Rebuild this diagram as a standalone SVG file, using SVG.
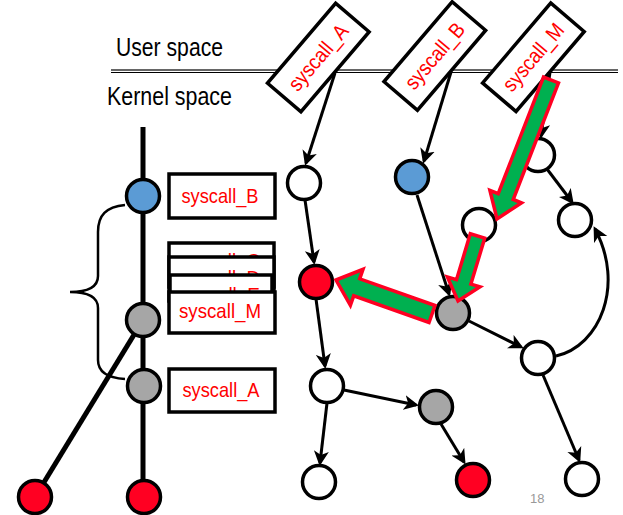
<svg xmlns="http://www.w3.org/2000/svg" width="623" height="515" viewBox="0 0 623 515">
<defs>
<marker id="ah" markerUnits="userSpaceOnUse" viewBox="0 -8 16 16" markerWidth="16" markerHeight="16" refX="12" refY="0" orient="auto">
<path d="M0,-7.5 L15,0 L0,7.5 L4,0 z" fill="#000"/>
</marker>
<style>
.lbl{font-family:"Liberation Sans",Arial,sans-serif;font-size:21px;fill:#FF0000;text-anchor:middle}
.hdr{font-family:"Liberation Sans",Arial,sans-serif;font-size:25px;fill:#000}
.box{fill:#fff;stroke:#000;stroke-width:3.5}
.n{stroke:#000;stroke-width:3.5}
.w{fill:#fff}.b{fill:#5B9BD5}.g{fill:#A6A6A6}.r{fill:#FF0022}
.e{fill:none;stroke:#000;stroke-width:3;marker-end:url(#ah)}
.ga{fill:#00B050;stroke:#FF0022;stroke-width:3.5;stroke-linejoin:miter}
</style>
</defs>
<rect width="623" height="515" fill="#fff"/>

<g id="separator">
<line x1="111" y1="70" x2="618" y2="70" stroke="#666" stroke-width="2"/>
<line x1="111" y1="72.5" x2="618" y2="72.5" stroke="#000" stroke-width="1.2"/>
</g>
<text class="hdr" x="116" y="56" textLength="107" lengthAdjust="spacingAndGlyphs">User space</text>
<text class="hdr" x="107" y="105" textLength="125" lengthAdjust="spacingAndGlyphs">Kernel space</text>

<g id="left-timeline">
<path d="M125,205 C106,207 98,215 98,232 L98,276 C98,287 88,292 70,292 C88,292 98,297 98,308 L98,360 C98,372 108,378 125,379" fill="none" stroke="#000" stroke-width="2.5"/>
<line x1="143" y1="127" x2="143" y2="500" stroke="#000" stroke-width="5"/>
<line x1="143" y1="320" x2="35" y2="497" stroke="#000" stroke-width="5"/>
</g>
<g id="ln-blue"><circle class="n b" cx="143" cy="196" r="16.5"/></g>
<g id="ln-gray1"><circle class="n g" cx="143" cy="320" r="16.5"/></g>
<g id="ln-gray2"><circle class="n g" cx="144" cy="386" r="16.5"/></g>
<g id="ln-red1"><circle class="n r" cx="35" cy="497" r="16.5"/></g>
<g id="ln-red2"><circle class="n r" cx="144" cy="497" r="16.5"/></g>

<g id="box-syscall_B"><rect class="box" x="169" y="174" width="106" height="44"/><text class="lbl" x="220" y="203" textLength="77" lengthAdjust="spacingAndGlyphs">syscall_B</text></g>
<g id="box-syscall_C"><rect class="box" x="169" y="243" width="105" height="44"/><text class="lbl" x="220" y="268" textLength="80" lengthAdjust="spacingAndGlyphs">syscall_C</text></g>
<g id="box-syscall_D"><rect class="box" x="169" y="257" width="105" height="44"/><text class="lbl" x="220" y="285" textLength="80" lengthAdjust="spacingAndGlyphs">syscall_D</text></g>
<g id="box-syscall_E"><rect class="box" x="170" y="275" width="102" height="44"/><text class="lbl" x="220" y="302" textLength="80" lengthAdjust="spacingAndGlyphs">syscall_E</text></g>
<g id="box-syscall_M"><rect class="box" x="169" y="292" width="106" height="41"/><text class="lbl" x="220" y="318" textLength="82" lengthAdjust="spacingAndGlyphs">syscall_M</text></g>
<g id="box-syscall_A"><rect class="box" x="169" y="369" width="106" height="43"/><text class="lbl" x="221" y="397" textLength="77" lengthAdjust="spacingAndGlyphs">syscall_A</text></g>

<g id="connectors">
<line class="e" x1="335" y1="73" x2="306" y2="163"/>
<line class="e" x1="451" y1="72" x2="424" y2="161"/>
<line class="e" x1="550" y1="72" x2="541" y2="136"/>
<line class="e" x1="305" y1="200" x2="314" y2="262"/>
<line class="e" x1="417" y1="195" x2="449" y2="294"/>
<line class="e" x1="547" y1="169" x2="572" y2="202"/>
<line class="e" x1="469" y1="321" x2="521" y2="347"/>
<path class="e" d="M556,356 C600,346 625,285 595,229"/>
<line class="e" x1="316" y1="299" x2="325" y2="366"/>
<line class="e" x1="344" y1="390" x2="416" y2="405"/>
<line class="e" x1="327" y1="403" x2="320" y2="463"/>
<line class="e" x1="441" y1="424" x2="464" y2="462"/>
<line class="e" x1="543" y1="375" x2="579" y2="460"/>
</g>

<g id="sys-A" transform="translate(318.3,57.5) rotate(-49.5)"><rect class="box" x="-52.5" y="-22" width="105" height="44"/><text class="lbl" x="0" y="7" textLength="80" lengthAdjust="spacingAndGlyphs">syscall_A</text></g>
<g id="sys-B" transform="translate(434.8,56) rotate(-49.5)"><rect class="box" x="-52.5" y="-22" width="105" height="44"/><text class="lbl" x="0" y="7" textLength="80" lengthAdjust="spacingAndGlyphs">syscall_B</text></g>
<g id="sys-M" transform="translate(533.4,57.3) rotate(-49.5)"><rect class="box" x="-52.5" y="-22" width="105" height="44"/><text class="lbl" x="0" y="7" textLength="82" lengthAdjust="spacingAndGlyphs">syscall_M</text></g>

<g id="n1"><circle class="n w" cx="304" cy="183" r="16.5"/></g>
<g id="n2"><circle class="n b" cx="412" cy="177" r="16.5"/></g>
<g id="n3"><circle class="n w" cx="538" cy="155" r="16.5"/></g>
<g id="n4"><circle class="n w" cx="479" cy="225" r="16.5"/></g>
<g id="n5"><circle class="n w" cx="575" cy="220" r="16.5"/></g>
<g id="n6"><circle class="n r" cx="316" cy="282" r="16.5"/></g>
<g id="n7"><circle class="n g" cx="453" cy="313" r="16.5"/></g>
<g id="n8"><circle class="n w" cx="538" cy="358" r="16.5"/></g>
<g id="n9"><circle class="n w" cx="327" cy="386" r="16.5"/></g>
<g id="n10"><circle class="n g" cx="436" cy="407" r="16.5"/></g>
<g id="n11"><circle class="n w" cx="319" cy="482" r="16.5"/></g>
<g id="n12"><circle class="n r" cx="473" cy="480" r="16.5"/></g>
<g id="n13"><circle class="n w" cx="582" cy="479" r="16.5"/></g>

<g id="green-arrows">
<polygon class="ga" points="558.5,82.9 513.2,199.5 521.5,202.8 497,219 489.9,190.4 498.2,193.7 543.5,77.1"/>
<polygon class="ga" points="484.7,238.2 470.9,284.1 480,286.8 458,301 447.4,277 456.5,279.7 470.3,233.8"/>
<polygon class="ga" points="435,305.5 359.7,278.8 363,269.4 336,280 350.4,305.2 353.7,295.8 429,322.5"/>
</g>

<text x="530" y="503" font-family="'Liberation Sans',Arial,sans-serif" font-size="13" fill="#999">18</text>
</svg>
